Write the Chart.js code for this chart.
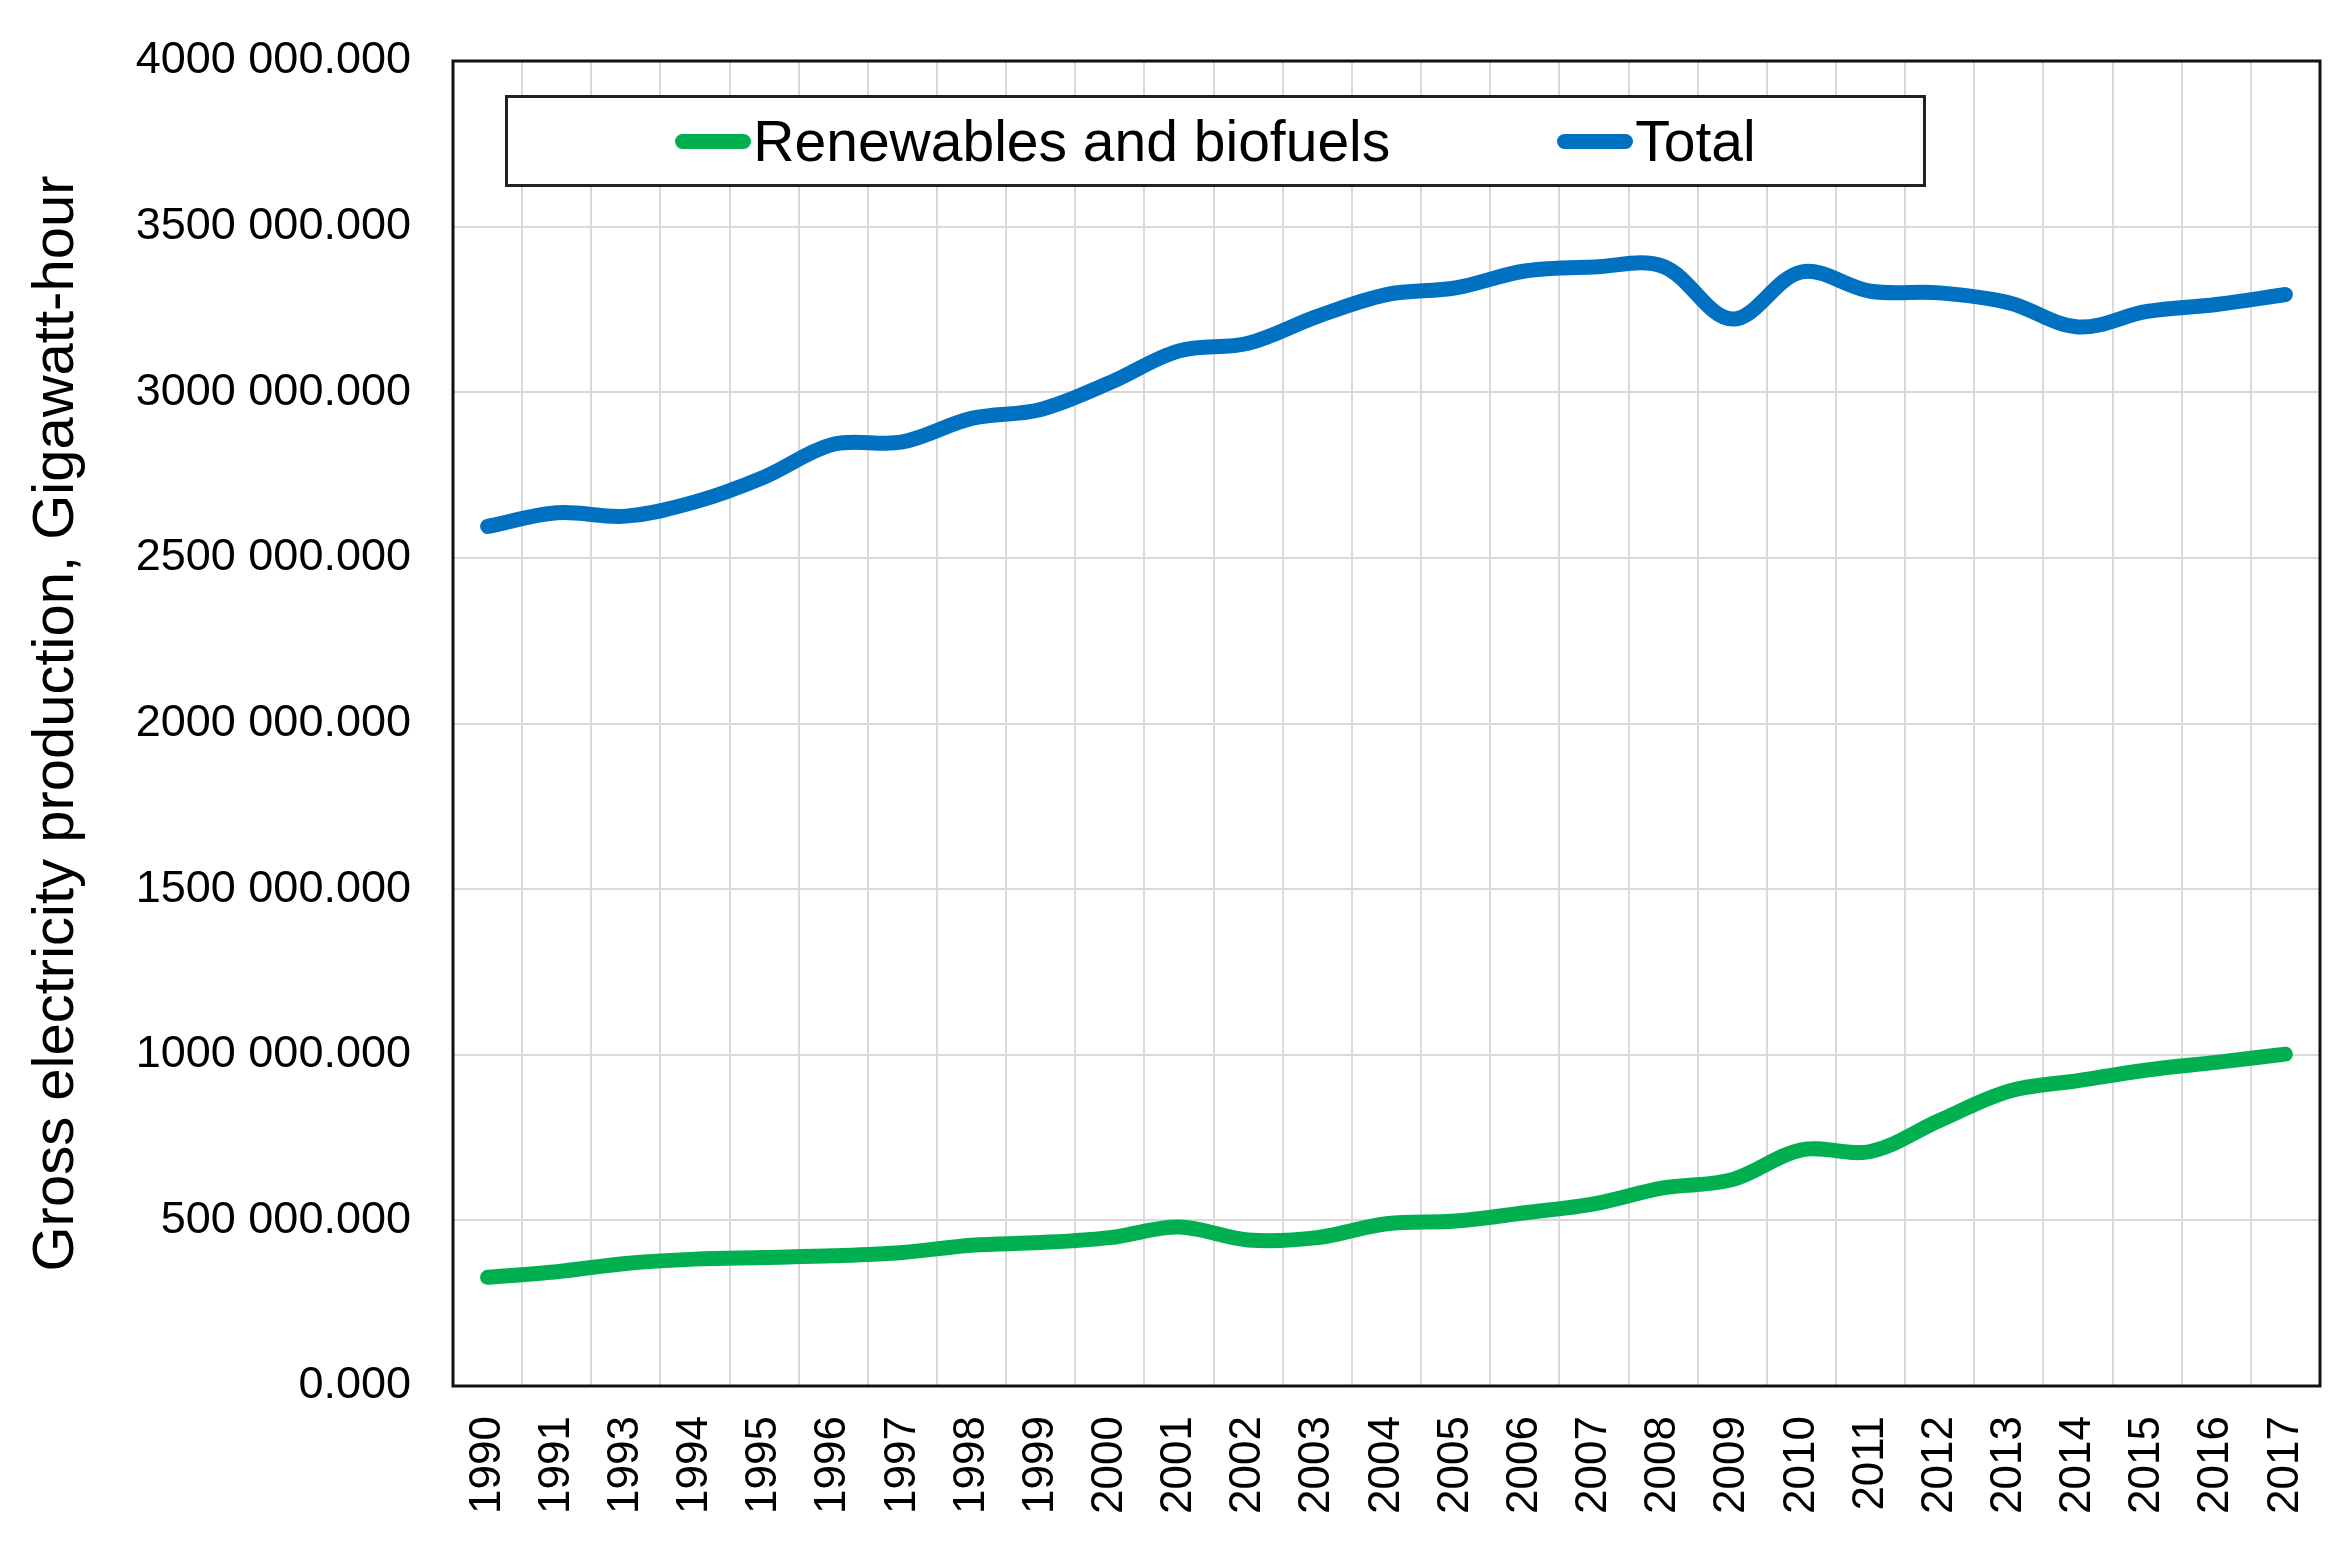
<!DOCTYPE html>
<html>
<head>
<meta charset="utf-8">
<title>Gross electricity production</title>
<script src="https://cdn.jsdelivr.net/npm/chart.js@4.4.0/dist/chart.umd.min.js"></script>
<style>
  html, body { margin: 0; padding: 0; background: #fff; overflow: hidden; }
  #wrap { position: relative; width: 2352px; height: 1548px; }
  #chart { display: block; }
  #legend {
    position: absolute; box-sizing: border-box; border: 3px solid #222; background: #fff;
    display: flex; align-items: center; justify-content: center; gap: 167px;
    font-family: "Liberation Sans", Arial, sans-serif; font-size: 57px; color: #000;
  }
  .item { display: flex; align-items: center; }
  .swatch { width: 76px; height: 15px; border-radius: 8px; margin-right: 2px; }
</style>
</head>
<body>
<div id="wrap">
  <canvas id="chart" width="2352" height="1548"></canvas>
  <div id="legend"></div>
</div>
<script>
// Data (GWh) - note 1992 is missing in the source
const years = ["1990", "1991", "1993", "1994", "1995", "1996", "1997", "1998", "1999", "2000",
  "2001", "2002", "2003", "2004", "2005", "2006", "2007", "2008", "2009", "2010",
  "2011", "2012", "2013", "2014", "2015", "2016", "2017"];

const renewables = [328000, 345000, 370000, 383000, 388000, 393000, 403000, 425000, 433000, 448000,
  480000, 441000, 448000, 490000, 498000, 523000, 550000, 598000, 623000, 713000,
  708000, 802000, 890000, 922000, 954000, 977000, 1002000];

const total = [2595000, 2636000, 2626000, 2669000, 2744000, 2843000, 2850000, 2921000, 2948000, 3029000,
  3125000, 3148000, 3229000, 3295000, 3315000, 3366000, 3378000, 3380000, 3221000, 3363000,
  3305000, 3300000, 3270000, 3197000, 3244000, 3265000, 3295000];

const seriesNames = ["Renewables and biofuels", "Total"];
const seriesColors = ["#00B050", "#0070C0"];
const yAxisTitle = "Gross electricity production, Gigawatt-hour";

Chart.defaults.font.family = "'Liberation Sans', Arial, sans-serif";
Chart.defaults.color = "#000";

// "4000 000.000" style labels
function formatTick(v) {
  if (v === 0) return "0.000";
  return Math.floor(v / 1000) + " " + String(v % 1000).padStart(3, "0") + ".000";
}

// Box around the plot area
const plotBorder = {
  id: "plotBorder",
  beforeDatasetsDraw(chart) {
    const { ctx, chartArea: a } = chart;
    ctx.save();
    ctx.strokeStyle = "#111";
    ctx.lineWidth = 3;
    ctx.strokeRect(a.left, a.top, a.right - a.left, a.bottom - a.top);
    ctx.restore();
  }
};

const chart = new Chart(document.getElementById("chart"), {
  type: "line",
  data: {
    labels: years,
    datasets: [
      { label: seriesNames[0], data: renewables, borderColor: seriesColors[0], backgroundColor: seriesColors[0] },
      { label: seriesNames[1], data: total, borderColor: seriesColors[1], backgroundColor: seriesColors[1] }
    ]
  },
  options: {
    responsive: false,
    animation: false,
    devicePixelRatio: 1,
    layout: { padding: { left: 22, top: 61, right: 32, bottom: 0 } },
    elements: {
      line: { borderWidth: 15, tension: 0.35, borderCapStyle: "round", borderJoinStyle: "round" },
      point: { radius: 0 }
    },
    plugins: {
      legend: { display: false },
      tooltip: { enabled: false }
    },
    scales: {
      x: {
        offset: true,
        grid: { offset: true, color: "#d9d9d9", lineWidth: 2, drawTicks: false },
        border: { display: false },
        ticks: { autoSkip: false, maxRotation: 90, minRotation: 90, padding: 30, font: { size: 44 } },
        afterFit(scale) {
          scale.height = 162;
          scale.paddingLeft = 0;
          scale.paddingRight = 0;
        }
      },
      y: {
        min: 0,
        max: 4000000,
        grid: { color: "#d9d9d9", lineWidth: 2, drawTicks: false },
        border: { display: false },
        ticks: { stepSize: 500000, padding: 42, font: { size: 45 }, callback: formatTick },
        title: { display: true, text: yAxisTitle, font: { size: 58 }, padding: { top: 0, bottom: 0 } },
        afterFit(scale) {
          scale.width = 431;
          scale.paddingTop = 0;
          scale.paddingBottom = 0;
        }
      }
    }
  },
  plugins: [plotBorder]
});

// Legend inside the plot, built from the datasets
function buildLegend() {
  const box = document.getElementById("legend");
  const a = chart.chartArea;
  box.style.left = (a.left + 52) + "px";
  box.style.top = (a.top + 34) + "px";
  box.style.width = "1421px";
  box.style.height = "92px";
  chart.data.datasets.forEach(ds => {
    const item = document.createElement("div");
    item.className = "item";
    item.innerHTML = `<span class="swatch" style="background:${ds.borderColor}"></span><span>${ds.label}</span>`;
    box.appendChild(item);
  });
}

buildLegend();
</script>
</body>
</html>
